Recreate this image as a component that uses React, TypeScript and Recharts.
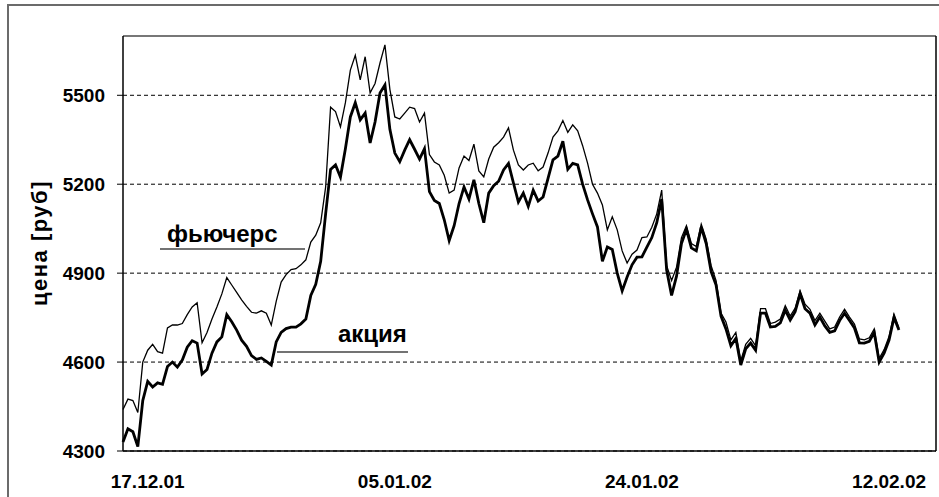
import { CartesianGrid, Line, LineChart, ReferenceLine, XAxis, YAxis } from "recharts"

// x = trading-time index (one step ~ a few hours), labels at every 50 steps
const dateTicks = [5, 55, 105, 155]
const dateLabels = ["17.12.01", "05.01.02", "24.01.02", "12.02.02"]
const priceTicks = [4300, 4600, 4900, 5200, 5500]

// фьючерс (thin line)
const futures = [
    4440, 4475, 4470, 4430, 4600, 4640, 4660, 4635, 4630, 4715,
    4725, 4725, 4730, 4760, 4786, 4800, 4665, 4700, 4745, 4786,
    4830, 4885, 4860, 4835, 4810, 4788, 4768, 4765, 4773, 4765,
    4725, 4805, 4870, 4895, 4912, 4915, 4928, 4945, 5005, 5028,
    5070, 5190, 5460, 5445, 5393, 5475, 5585, 5635, 5552, 5630,
    5508, 5540, 5609, 5670, 5520, 5427, 5420, 5440, 5460, 5455,
    5410, 5440, 5300, 5275, 5265, 5230, 5170, 5180, 5255, 5295,
    5280, 5335, 5245, 5225, 5285, 5325, 5340, 5359, 5390, 5315,
    5265, 5248, 5265, 5271, 5245, 5258, 5305, 5359, 5380, 5415,
    5375, 5400, 5380, 5330, 5271, 5200, 5170, 5130, 5046, 5090,
    5046, 4975, 4934, 4964, 4978, 5020, 5022, 5055, 5100, 5180,
    4925, 4875, 4920, 5020, 5060, 5000, 4990, 5065, 5015, 4925,
    4875, 4765, 4735, 4675, 4700, 4605, 4660, 4680, 4655, 4780,
    4780, 4730, 4735, 4745, 4790, 4755, 4782, 4840, 4795, 4778,
    4740, 4765, 4738, 4712, 4718, 4752, 4778, 4752, 4728, 4678,
    4675, 4682, 4712, 4612, 4642, 4686, 4762, 4715,
]

// акция (thick line)
const stock = [
    4330, 4375, 4365, 4315, 4470, 4535, 4516, 4530, 4525, 4585,
    4600, 4583, 4607, 4650, 4672, 4664, 4560, 4575, 4630, 4668,
    4685, 4760, 4736, 4708, 4674, 4653, 4622, 4609, 4614, 4602,
    4590, 4668, 4700, 4713, 4718, 4718, 4729, 4745, 4825, 4862,
    4940, 5100, 5250, 5265, 5224, 5320, 5427, 5475, 5417, 5440,
    5339, 5410, 5508, 5535, 5385, 5305, 5276, 5315, 5350, 5318,
    5285, 5320, 5175, 5145, 5135, 5080, 5010, 5060, 5135, 5191,
    5150, 5215, 5135, 5070, 5170, 5195, 5210, 5248, 5270, 5204,
    5140, 5170, 5125, 5180, 5143, 5157, 5220, 5282, 5295, 5345,
    5250, 5270, 5265, 5200, 5147, 5100, 5056, 4940, 4988, 4980,
    4900, 4840, 4887, 4928, 4954, 4955, 4988, 5020, 5070, 5150,
    4910, 4825, 4890, 5000, 5048, 4985, 4975, 5055, 5000, 4905,
    4860, 4755, 4712, 4655, 4680, 4590, 4645, 4664, 4640, 4765,
    4765, 4718, 4720, 4732, 4775, 4742, 4770, 4830, 4780, 4765,
    4725, 4752, 4722, 4700, 4705, 4740, 4765, 4740, 4715, 4665,
    4664, 4670, 4700, 4600, 4630, 4674, 4750, 4708,
]

const data = futures.map((f, i) => ({ k: i, fut: f, stock: stock[i] }))

const font = '"Liberation Sans", Arial, sans-serif'
const tickStyle = { fontSize: 19, fontWeight: "bold", fill: "#000", fontFamily: font }

const App = () => {
    return (
        <div style={{ position: "fixed", left: 0, top: 0, width: 939, height: 497, overflow: "hidden", background: "#fff" }}>
            <div style={{ position: "absolute", left: 7, top: 4, width: 1000, height: 1000, border: "2px solid #6b6b6b" }} />
            <LineChart width={939} height={497} data={data} margin={{ top: 36, right: 3, bottom: 0, left: 13 }}>
                <CartesianGrid vertical={false} stroke="#000" strokeDasharray="4 3" />
                <XAxis
                    dataKey="k"
                    type="number"
                    domain={[0, 164.5]}
                    ticks={dateTicks}
                    interval={0}
                    tickFormatter={(v: number) => dateLabels[dateTicks.indexOf(v)]}
                    tickLine={false}
                    axisLine={{ stroke: "#000", strokeWidth: 1.5 }}
                    height={46}
                    tickMargin={18}
                    tick={tickStyle}
                />
                <YAxis
                    domain={[4300, 5700]}
                    ticks={priceTicks}
                    interval={0}
                    width={110}
                    tickSize={6}
                    tickMargin={12}
                    tickLine={{ stroke: "#000" }}
                    axisLine={{ stroke: "#000", strokeWidth: 1.5 }}
                    tick={tickStyle}
                />
                <ReferenceLine y={5700} stroke="#777" strokeWidth={2} />
                <ReferenceLine x={164.5} stroke="#000" strokeWidth={1.5} />
                <Line dataKey="fut" type="linear" stroke="#000" strokeWidth={1.3} dot={false} isAnimationActive={false} />
                <Line dataKey="stock" type="linear" stroke="#000" strokeWidth={2.8} dot={false} isAnimationActive={false} />
            </LineChart>
            <svg width={939} height={497} style={{ position: "absolute", left: 0, top: 0, pointerEvents: "none" }}>
                <text
                    x={39}
                    y={243}
                    transform="rotate(-90 39 243)"
                    textAnchor="middle"
                    dominantBaseline="central"
                    style={{ fontSize: 22, fontWeight: "bold", fontFamily: font, letterSpacing: 1.5 }}
                >
                    цена [руб]
                </text>
                <text x={167} y={242} style={{ fontSize: 24, fontWeight: "bold", fontFamily: font }}>
                    фьючерс
                </text>
                <line x1={160} x2={305} y1={249} y2={249} stroke="#444" strokeWidth={1.5} />
                <text x={338} y={342} style={{ fontSize: 24, fontWeight: "bold", fontFamily: font }}>
                    акция
                </text>
                <line x1={277} x2={408} y1={352} y2={352} stroke="#444" strokeWidth={1.5} />
            </svg>
        </div>
    )
}

export default App
